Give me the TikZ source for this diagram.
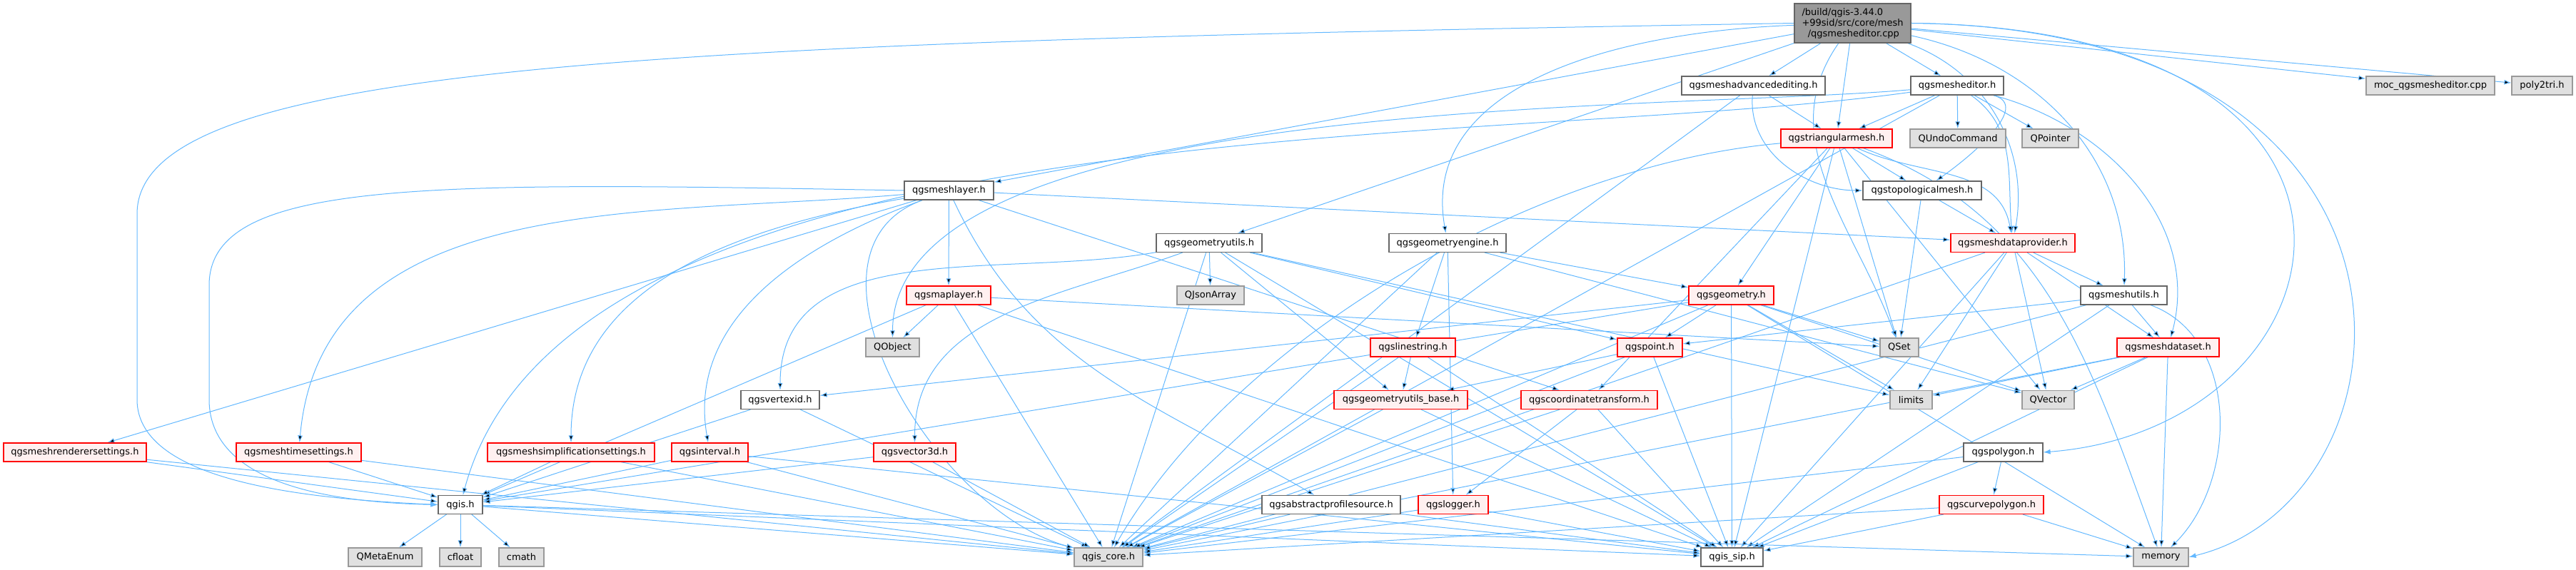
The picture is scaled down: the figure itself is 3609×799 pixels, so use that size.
\documentclass[tikz,border=0pt]{standalone}
\usepackage{fontspec}
\setmainfont{DejaVu Sans}
\usepackage{tikz}
\usetikzlibrary{arrows.meta}
\definecolor{depblue}{HTML}{63B8FF}
\definecolor{truncfill}{HTML}{FFF0F0}
\definecolor{extfill}{HTML}{E0E0E0}
\definecolor{extline}{HTML}{999999}
\definecolor{docline}{HTML}{666666}
\definecolor{srcfill}{HTML}{999999}
\pgfdeclarelayer{background}
\pgfsetlayers{background,main}

\begin{document}
\begin{tikzpicture}[->,
        >={Latex[length=2.5pt,width=1.75pt]},
        x=0.25pt, y=-0.25pt,
        font=\fontsize{3.25}{3.75}\selectfont,
        every node/.style={draw, line width=0.3pt, minimum height=6.5pt, inner sep=0pt},
        bw/.style={minimum width=#1*0.25pt},
        src/.style={draw=docline, fill=srcfill},
        hdr/.style={draw=docline, fill=white},
        trunc/.style={draw=red, fill=truncfill},
        ext/.style={draw=extline, fill=extfill},
        dep/.style={draw=depblue, line width=0.25pt}]

      \useasboundingbox (0,0) rectangle (3609,799);

      % rows 0 - 2
      \node[src, bw=163, minimum height=13.75pt, align=left] (main) at (2595.5,32.5)
        {/build/qgis-3.44.0\\+99sid/src/core/mesh\\\ \ /qgsmesheditor.cpp};
      \node[hdr, bw=201] (adv)      at (2456.5,120) {qgsmeshadvancedediting.h};
      \node[hdr, bw=130] (editorh)  at (2742,120)   {qgsmesheditor.h};
      \node[ext, bw=180] (moc)      at (3405,120)   {moc\_qgsmesheditor.cpp};
      \node[ext, bw=85]  (poly2tri) at (3561.5,120) {poly2tri.h};
      \node[trunc, bw=156] (tri)    at (2573,194)   {qgstriangularmesh.h};
      \node[ext, bw=134] (undo)     at (2743,194)   {QUndoCommand};
      \node[ext, bw=79]  (qpointer) at (2872.5,194) {QPointer};

      % rows 3 - 5
      \node[hdr, bw=125] (meshlayer)  at (1329.5,267) {qgsmeshlayer.h};
      \node[hdr, bw=166] (topo)       at (2693,267)   {qgstopologicalmesh.h};
      \node[hdr, bw=148] (geomutils)  at (1694,340.5) {qgsgeometryutils.h};
      \node[hdr, bw=164] (geomengine) at (2028,340.5) {qgsgeometryengine.h};
      \node[trunc, bw=174] (dataprov) at (2820,340.5) {qgsmeshdataprovider.h};
      \node[trunc, bw=118] (maplayer) at (1329,414)   {qgsmaplayer.h};
      \node[ext, bw=94]  (qjson)      at (1696,414)   {QJsonArray};
      \node[trunc, bw=119] (geometry) at (2425.5,414) {qgsgeometry.h};
      \node[hdr, bw=121] (meshutils)  at (2975.5,414) {qgsmeshutils.h};

      % rows 6 - 7
      \node[ext, bw=75]  (qobject)      at (1250.5,487) {QObject};
      \node[trunc, bw=119] (linestring) at (1979.5,487) {qgslinestring.h};
      \node[trunc, bw=91] (point)       at (2311.5,487) {qgspoint.h};
      \node[ext, bw=54]  (qset)         at (2661,487)   {QSet};
      \node[trunc, bw=143] (dataset)    at (3037.5,487) {qgsmeshdataset.h};
      \node[hdr, bw=110] (vertexid)     at (1093,560.5) {qgsvertexid.h};
      \node[trunc, bw=187] (geombase)   at (1962.5,560.5) {qgsgeometryutils\_base.h};
      \node[trunc, bw=191] (coordtr)    at (2226.5,560.5) {qgscoordinatetransform.h};
      \node[ext, bw=59]  (limits)       at (2677.5,560.5) {limits};
      \node[ext, bw=73]  (qvector)      at (2869.5,560.5) {QVector};

      % rows 8 - 10
      \node[trunc, bw=200] (rendset)  at (105,634)    {qgsmeshrenderersettings.h};
      \node[trunc, bw=175] (timeset)  at (418.5,634)  {qgsmeshtimesettings.h};
      \node[trunc, bw=234] (simpset)  at (800,634)    {qgsmeshsimplificationsettings.h};
      \node[trunc, bw=107] (interval) at (994.5,634)  {qgsinterval.h};
      \node[trunc, bw=115] (vector3d) at (1281.5,634) {qgsvector3d.h};
      \node[hdr, bw=111] (polygon)    at (2806.5,634) {qgspolygon.h};
      \node[hdr, bw=62]  (qgis)       at (645,707.5)  {qgis.h};
      \node[hdr, bw=194] (profsrc)    at (1865,707.5) {qgsabstractprofilesource.h};
      \node[trunc, bw=98] (logger)    at (2036,707.5) {qgslogger.h};
      \node[trunc, bw=146] (curvepoly) at (2790,707.5) {qgscurvepolygon.h};
      \node[ext, bw=103] (qmetaenum)  at (539.5,781)  {QMetaEnum};
      \node[ext, bw=58]  (cfloat)     at (645,781)    {cfloat};
      \node[ext, bw=63]  (cmath)      at (730.5,781)  {cmath};
      \node[ext, bw=96]  (core)       at (1553,781)   {qgis\_core.h};
      \node[hdr, bw=87]  (sip)        at (2426.5,781) {qgis\_sip.h};
      \node[ext, bw=77]  (memory)     at (3027.5,781) {memory};

      \begin{pgfonlayer}{background}
        \path[dep]
        (main) edge (adv)
        (main) edge (editorh)
        (main) edge (tri)
        (main) edge (moc)
        (main) edge (poly2tri)
        (main) edge (meshlayer)
        (main) edge (geomutils)
        (main) edge[out=182,in=100] (geomengine)
        (main) edge[out=-20,in=80] (dataprov)
        (main) edge[out=-12,in=88] (meshutils)
        (main) edge[out=235,in=110] (qset);
        \draw[dep] (main.east) .. controls (3420,40) and (3300,600) .. (polygon.east);
        \draw[dep] (main.east) .. controls (3450,40) and (3400,700) .. (memory.east);
        \draw[dep] (main.west) .. controls (900,60) and (192,90) .. (192,300)
          -- (192,560) .. controls (192,680) and (450,700) .. (qgis.west);

        \path[dep]
        (adv) edge (tri)
        (adv) edge[out=-95,in=180] (topo)
        (adv) edge (core)
        (editorh) edge (tri)
        (editorh) edge (undo)
        (editorh) edge (qpointer)
        (editorh) edge[out=-15,in=35] (topo)
        (editorh) edge[out=-35,in=95] (dataprov)
        (editorh) edge[out=-15,in=75] (dataset)
        (editorh) edge[out=185,in=90,looseness=0.6] (qobject)
        (editorh) edge[out=188,in=75,looseness=0.7] (qgis)
        (editorh) edge (core);

        \path[dep]
        (tri) edge (topo)
        (tri) edge[out=-25,in=100] (dataprov)
        (tri) edge (geometry)
        (tri) edge (coordtr)
        (tri) edge (qvector)
        (tri) edge[out=-20,in=110] (memory)
        (tri) edge (qset)
        (tri) edge[out=185,in=60,looseness=0.8] (core)
        (tri) edge (sip)
        (topo) edge (dataprov)
        (topo) edge (qset);

        \path[dep]
        (meshlayer) edge (maplayer)
        (meshlayer) edge (dataprov)
        (meshlayer) edge (rendset)
        (meshlayer) edge[out=185,in=85] (timeset)
        (meshlayer) edge[out=190,in=90] (simpset)
        (meshlayer) edge[out=200,in=100] (interval)
        (meshlayer) edge[out=-65,in=150] (profsrc)
        (meshlayer) edge (coordtr)
        (meshlayer) edge[out=200,in=165] (core);
        \draw[dep] (meshlayer.west) .. controls (600,255) and (293,250) .. (293,400)
          -- (293,560) .. controls (293,690) and (500,705) .. (qgis.west);

        \path[dep]
        (geomutils) edge (qjson)
        (geomutils) edge[out=190,in=90] (vertexid)
        (geomutils) edge[out=200,in=90] (vector3d)
        (geomutils) edge (point)
        (geomutils) edge (geombase)
        (geomutils) edge (limits)
        (geomutils) edge (core)
        (geomutils) edge (sip)
        (geomengine) edge (geometry)
        (geomengine) edge (linestring)
        (geomengine) edge (logger)
        (geomengine) edge (qvector)
        (geomengine) edge (core)
        (dataprov) edge (meshutils)
        (dataprov) edge (dataset)
        (dataprov) edge (qvector)
        (dataprov) edge (limits)
        (dataprov) edge (core)
        (dataprov) edge (sip);

        \path[dep]
        (maplayer) edge (qobject)
        (maplayer) edge (qgis)
        (maplayer) edge (core)
        (maplayer) edge (sip)
        (maplayer) edge (qset)
        (geometry) edge (point)
        (geometry) edge (qset)
        (geometry) edge (limits)
        (geometry) edge (qvector)
        (geometry) edge (memory)
        (geometry) edge (core)
        (geometry) edge (sip)
        (geometry) edge (qgis)
        (geometry) edge (vertexid)
        (meshutils) edge (dataset)
        (meshutils) edge (point)
        (meshutils) edge (core)
        (meshutils) edge (sip)
        (meshutils) edge[out=-20,in=45] (memory);

        \path[dep]
        (linestring) edge (geombase)
        (linestring) edge (core)
        (linestring) edge (sip)
        (point) edge (geombase)
        (point) edge (core)
        (point) edge (sip)
        (dataset) edge (limits)
        (dataset) edge (qvector)
        (dataset) edge (memory)
        (dataset) edge (core)
        (dataset) edge (sip)
        (vertexid) edge (qgis)
        (vertexid) edge (core)
        (geombase) edge (core)
        (geombase) edge (sip)
        (coordtr) edge (logger)
        (coordtr) edge (core)
        (coordtr) edge (sip);

        \path[dep]
        (rendset) edge (qgis)
        (rendset) edge (core)
        (timeset) edge (qgis)
        (timeset) edge (core)
        (simpset) edge (qgis)
        (simpset) edge (core)
        (interval) edge (qgis)
        (interval) edge (core)
        (interval) edge (sip)
        (vector3d) edge (qgis)
        (vector3d) edge (core)
        (polygon) edge (curvepoly)
        (polygon) edge (core)
        (polygon) edge (sip)
        (qgis) edge (qmetaenum)
        (qgis) edge (cfloat)
        (qgis) edge (cmath)
        (qgis) edge (core)
        (qgis) edge (sip)
        (qgis) edge (memory)
        (profsrc) edge (core)
        (profsrc) edge (sip)
        (logger) edge (core)
        (logger) edge (sip)
        (curvepoly) edge (core)
        (curvepoly) edge (sip)
        (curvepoly) edge (memory);
      \end{pgfonlayer}

\end{tikzpicture}
\end{document}
